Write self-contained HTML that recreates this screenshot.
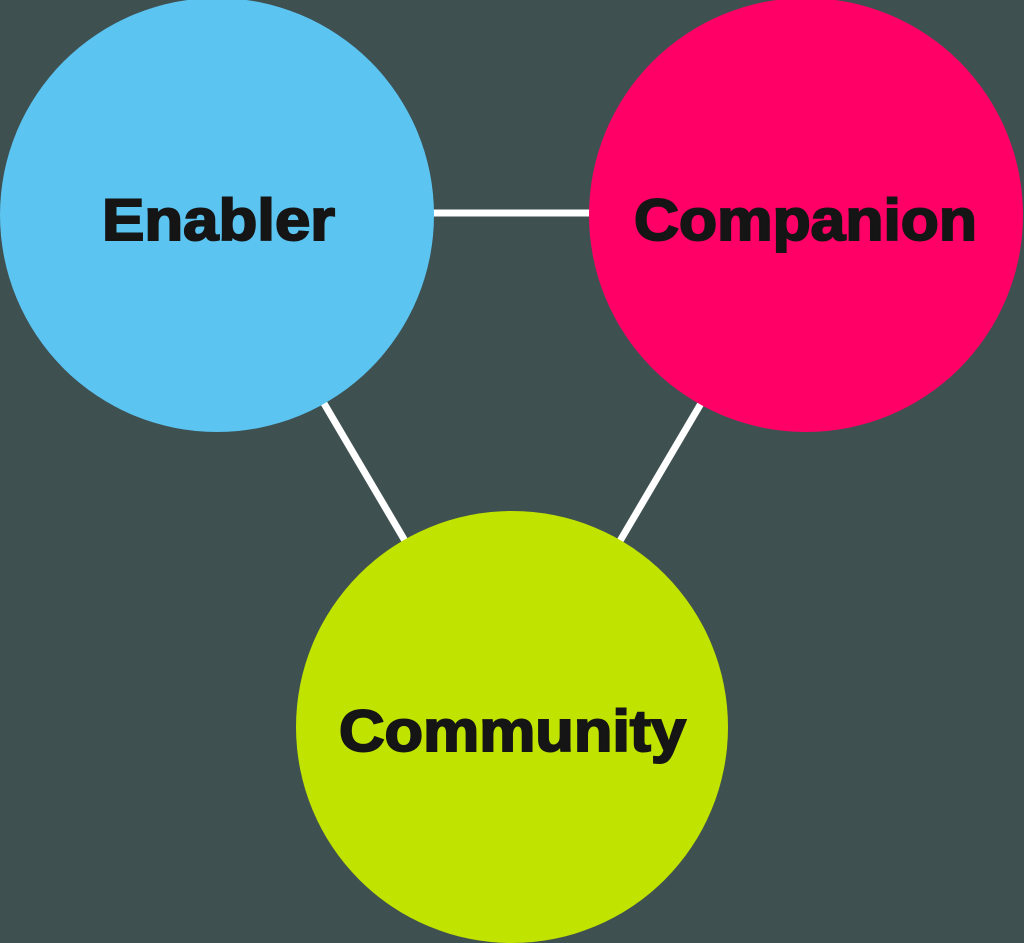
<!DOCTYPE html>
<html><head><meta charset="utf-8"><style>
html,body{margin:0;padding:0;background:#3f5051;}
svg{display:block}
text{font-family:"Liberation Sans",sans-serif;font-weight:bold;fill:#151515;stroke:#151515;stroke-width:2;font-size:58px}
</style></head><body>
<svg width="1024" height="943" viewBox="0 0 1024 943">
<rect width="1024" height="943" fill="#3f5051"/>
<line x1="430" y1="213" x2="595" y2="213" stroke="#fff" stroke-width="7"/>
<line x1="322" y1="400" x2="408" y2="546" stroke="#fff" stroke-width="7"/>
<line x1="703" y1="400" x2="617" y2="546" stroke="#fff" stroke-width="7"/>
<circle cx="217" cy="215" r="217" fill="#5bc4f1"/>
<circle cx="806" cy="215" r="217" fill="#ff0066"/>
<circle cx="512" cy="727" r="216" fill="#c1e300"/>
<text x="102" y="240" textLength="233" lengthAdjust="spacingAndGlyphs">Enabler</text>
<text x="634" y="240" textLength="343" lengthAdjust="spacingAndGlyphs">Companion</text>
<text x="339" y="751" textLength="347" lengthAdjust="spacingAndGlyphs">Community</text>
</svg>
</body></html>
